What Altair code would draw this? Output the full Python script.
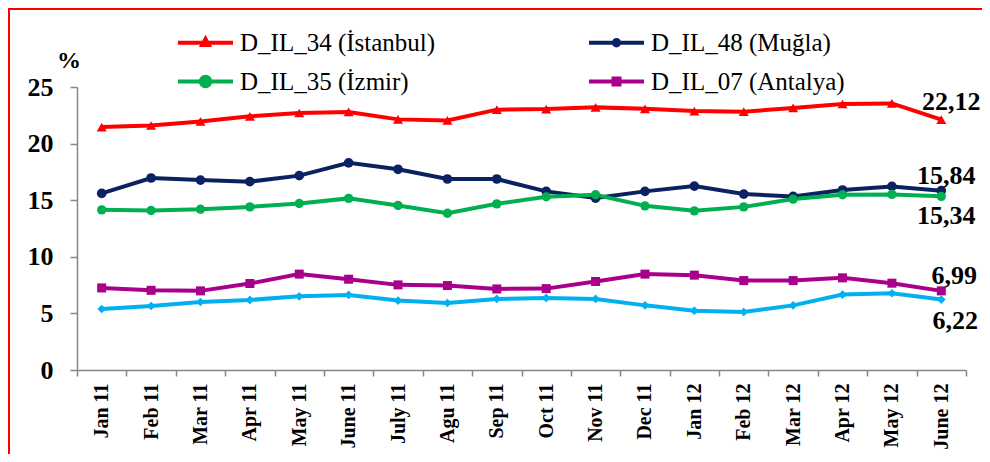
import altair as alt
import pandas as pd

months = ["Jan 11", "Feb 11", "Mar 11", "Apr 11", "May 11", "June 11", "July 11", "Agu 11", "Sep 11",
          "Oct 11", "Nov 11", "Dec 11", "Jan 12", "Feb 12", "Mar 12", "Apr 12", "May 12", "June 12"]
istanbul = [21.46, 21.6, 21.96, 22.41, 22.7, 22.8, 22.14, 22.05, 23.0, 23.05, 23.2, 23.07, 22.87, 22.82, 23.15, 23.5, 23.55, 22.12]
mugla = [15.6, 16.96, 16.78, 16.64, 17.17, 18.3, 17.73, 16.87, 16.87, 15.78, 15.19, 15.78, 16.25, 15.54, 15.33, 15.9, 16.22, 15.84]
izmir = [14.15, 14.09, 14.2, 14.41, 14.71, 15.16, 14.54, 13.85, 14.68, 15.3, 15.48, 14.5, 14.06, 14.41, 15.1, 15.48, 15.51, 15.34]
antalya = [7.25, 7.04, 6.99, 7.64, 8.47, 8.02, 7.52, 7.46, 7.16, 7.19, 7.82, 8.47, 8.38, 7.9, 7.9, 8.14, 7.67, 6.99]
other = [5.39, 5.65, 6.01, 6.19, 6.51, 6.63, 6.13, 5.92, 6.28, 6.37, 6.28, 5.71, 5.24, 5.12, 5.71, 6.66, 6.78, 6.22]

series_names = ["D_IL_34 (İstanbul)", "D_IL_48 (Muğla)", "D_IL_35 (İzmir)", "D_IL_07 (Antalya)", "other"]
series_values = [istanbul, mugla, izmir, antalya, other]
series_colors = ["#ff0000", "#0b2161", "#00b050", "#a8008a", "#00b0f0"]
series_shapes = ["triangle-up", "circle", "circle", "square", "diamond"]
series_sizes = [100, 75, 170, 130, 70]

# legend entries (column-major order: column 1 then column 2)
legend_names = ["D_IL_34 (İstanbul)", "D_IL_35 (İzmir)", "D_IL_48 (Muğla)", "D_IL_07 (Antalya)"]
legend_colors = ["#ff0000", "#00b050", "#0b2161", "#a8008a"]
legend_paths = [
    "M-5.5,0H5.5M0,-0.75L0.65,0.45L-0.65,0.45Z",
    "M-5.5,0H5.5M0.95,0A0.95,0.95,0,1,1,-0.95,0A0.95,0.95,0,1,1,0.95,0Z",
    "M-5.5,0H5.5M0.55,0A0.55,0.55,0,1,1,-0.55,0A0.55,0.55,0,1,1,0.55,0Z",
    "M-5.5,0H5.5M-0.6,-0.6H0.6V0.6H-0.6Z",
]

end_labels = ["22,12", "15,84", "15,34", "6,99", "6,22"]
end_series = [0, 1, 2, 3, 4]
end_dx = [10, 5, 5, 13, 14]
end_dy = [-18, -15, 20, -15, 21]

rows = []
for name, vals in zip(series_names, series_values):
    for m, v in zip(months, vals):
        rows.append({"month": m, "series": name, "value": v})
df = pd.DataFrame(rows)

W, H = 889, 283
FONT = "Liberation Serif"

x_enc = alt.X("month:N", sort=months,
              scale=alt.Scale(type="band", paddingInner=0, paddingOuter=0),
              axis=alt.Axis(title=None, labelAngle=-90, labelFont=FONT, labelFontWeight="bold",
                            labelFontSize=20, labelColor="black", tickBand="extent", tickSize=6,
                            labelPadding=7, domainColor="#868686", tickColor="#868686",
                            domainWidth=1.5, tickWidth=1.5))
y_enc = alt.Y("value:Q", scale=alt.Scale(domain=[0, 25]),
              axis=alt.Axis(title=None, values=[0, 5, 10, 15, 20, 25], grid=False, labelFont=FONT,
                            labelFontWeight="bold", labelFontSize=26, labelColor="black",
                            labelPadding=17, tickSize=7, domainColor="#868686", tickColor="#868686",
                            domainWidth=1.5, tickWidth=1.5))

color_scale = alt.Scale(domain=series_names, range=series_colors)

lines = alt.Chart(df).mark_line(strokeWidth=4).encode(
    x=x_enc, y=y_enc,
    color=alt.Color("series:N", scale=color_scale, legend=None),
    detail="series:N",
)

points = alt.Chart(df).mark_point(filled=True, opacity=1).encode(
    x=x_enc, y=y_enc,
    color=alt.Color("series:N", scale=color_scale, legend=None),
    shape=alt.Shape("series:N", scale=alt.Scale(domain=series_names, range=series_shapes), legend=None),
    size=alt.Size("series:N", scale=alt.Scale(domain=series_names, range=series_sizes), legend=None),
)

leg_df = pd.DataFrame({"lg": legend_names})
leg_scale_c = alt.Scale(domain=legend_names, range=legend_colors)
leg = alt.Legend(orient="none", legendX=116, legendY=-57, columns=2, title=None,
                 labelFont=FONT, labelFontSize=25, labelColor="black", symbolSize=100,
                 symbolStrokeWidth=4, labelOffset=22, columnPadding=145, rowPadding=12,
                 symbolOpacity=1, padding=0, labelLimit=400)
legend_layer = alt.Chart(leg_df).mark_point(filled=True, opacity=0).encode(
    fill=alt.Fill("lg:N", scale=leg_scale_c, legend=leg, sort=legend_names),
    stroke=alt.Stroke("lg:N", scale=leg_scale_c, legend=leg, sort=legend_names),
    shape=alt.Shape("lg:N", scale=alt.Scale(domain=legend_names, range=legend_paths), legend=leg,
                    sort=legend_names),
)

layers = [lines, points]
for lab, si, dx, dy in zip(end_labels, end_series, end_dx, end_dy):
    sub = df[(df.series == series_names[si]) & (df.month == months[-1])]
    layers.append(alt.Chart(sub).mark_text(font=FONT, fontWeight="bold", fontSize=26, color="black",
                                          dx=dx, dy=dy, align="center", baseline="middle").encode(
        x=x_enc, y=y_enc, text=alt.value(lab)))

one = alt.Data(values=[{"a": 1}])
pct = alt.Chart(one).mark_text(font=FONT, fontWeight="bold", fontSize=24, color="black",
                               align="center", baseline="middle").encode(
    x=alt.value(-8), y=alt.value(-26), text=alt.value("%"))
border_top = alt.Chart(one).mark_rule(color="#ff0000", strokeWidth=2).encode(
    x=alt.value(-69), x2=alt.value(W + 40), y=alt.value(-78))
border_left = alt.Chart(one).mark_rule(color="#ff0000", strokeWidth=2).encode(
    x=alt.value(-68), y=alt.value(-78), y2=alt.value(H + 120))

chart = alt.layer(*layers, legend_layer, pct, border_top, border_left).resolve_scale(
    color="independent", shape="independent", size="independent", fill="independent",
    stroke="independent"
).properties(
    width=W, height=H,
    padding={"left": 69, "top": 79, "right": 16, "bottom": 84},
    autosize=alt.AutoSizeParams(type="none"),
    background="white",
).configure_view(strokeWidth=0)

chart.save("out.html", embed_options={"renderer": "svg", "actions": False})
